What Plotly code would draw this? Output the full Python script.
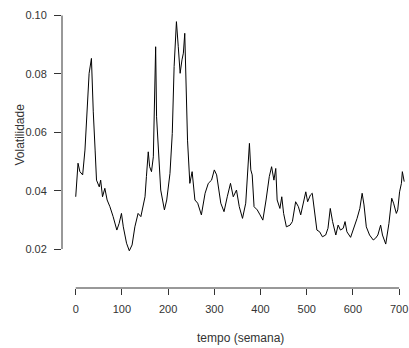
import plotly.graph_objects as go

# week index and volatility
semana = [0, 5, 9, 15, 20, 25, 29, 34, 35, 38, 42, 45, 51, 54, 58, 63, 68, 74, 81, 89,
          94, 99, 103, 110, 116, 122, 128, 135, 141, 146, 150, 153, 157, 160, 164, 168,
          171, 173, 175, 179, 184, 192, 197, 204, 209, 213, 218, 222, 226, 230, 233, 236,
          239, 242, 247, 252, 258, 264, 272, 280, 287, 294, 300, 305, 314, 321, 328, 335,
          341, 348, 354, 361, 368, 374, 376, 379, 382, 386, 393, 399, 405, 412, 419, 424,
          429, 433, 436, 442, 446, 450, 456, 464, 469, 476, 482, 487, 492, 498, 502, 508,
          512, 518, 522, 528, 534, 541, 546, 551, 556, 563, 568, 573, 579, 583, 587, 595,
          602, 609, 615, 620, 624, 629, 636, 644, 649, 654, 660, 664, 671, 678, 684, 688,
          694, 697, 701, 705, 707, 711]
volatilidade = [0.0379, 0.0494, 0.0465, 0.0454, 0.0539, 0.0676, 0.0802, 0.0853, 0.0803,
                0.0670, 0.0539, 0.0436, 0.0413, 0.0436, 0.0379, 0.0408, 0.0368, 0.0345,
                0.0311, 0.0265, 0.0288, 0.0322, 0.0276, 0.0220, 0.0194, 0.0214, 0.0276,
                0.0322, 0.0311, 0.0345, 0.0379, 0.0448, 0.0533, 0.0482, 0.0465, 0.0516,
                0.0733, 0.0893, 0.0653, 0.0528, 0.0402, 0.0334, 0.0368, 0.0459, 0.0596,
                0.0825, 0.0979, 0.0893, 0.0802, 0.0848, 0.0871, 0.0939, 0.0711, 0.0573,
                0.0425, 0.0465, 0.0368, 0.0357, 0.0317, 0.0391, 0.0425, 0.0436, 0.0471,
                0.0454, 0.0357, 0.0328, 0.0379, 0.0425, 0.0379, 0.0402, 0.0345, 0.0305,
                0.0357, 0.0499, 0.0562, 0.0471, 0.0454, 0.0345, 0.0334, 0.0317, 0.0299,
                0.0368, 0.0448, 0.0482, 0.0436, 0.0476, 0.0368, 0.0339, 0.0379, 0.0322,
                0.0276, 0.0282, 0.0294, 0.0362, 0.0345, 0.0317, 0.0357, 0.0396, 0.0362,
                0.0385, 0.0391, 0.0311, 0.0265, 0.0259, 0.0242, 0.0248, 0.0271, 0.0339,
                0.0294, 0.0248, 0.0282, 0.0265, 0.0271, 0.0294, 0.0259, 0.0240, 0.0271,
                0.0305, 0.0339, 0.0391, 0.0351, 0.0276, 0.0248, 0.0231, 0.0237, 0.0248,
                0.0282, 0.0248, 0.0217, 0.0288, 0.0374, 0.0357, 0.0322, 0.0334, 0.0396,
                0.0425, 0.0465, 0.0431]

x_ticks = [0, 100, 200, 300, 400, 500, 600, 700]
y_ticks = [0.02, 0.04, 0.06, 0.08, 0.10]
y_tick_labels = ["0.02", "0.04", "0.06", "0.08", "0.10"]
x_title = "tempo (semana)"
y_title = "Volatilidade"

FONT = "Liberation Sans, Arial, sans-serif"
AXC = "#333333"
TXT = "#333333"

fig = go.Figure()
fig.add_trace(go.Scatter(x=semana, y=volatilidade, mode="lines",
                         line=dict(color="black", width=1), showlegend=False,
                         hoverinfo="skip"))

fig.update_layout(
    width=409, height=348,
    margin=dict(l=62, r=0, t=0, b=60),
    paper_bgcolor="white", plot_bgcolor="white",
    font=dict(family=FONT, size=11, color=TXT),
    xaxis=dict(range=[-29.7, 721.4], tickvals=x_ticks, ticks="outside", ticklen=6,
               tickcolor=AXC, tickwidth=1, showgrid=False, zeroline=False,
               showline=False, ticklabelstandoff=5,
               tickfont=dict(size=11, color=TXT)),
    yaxis=dict(range=[0.00665, 0.10531], tickvals=y_ticks, ticktext=y_tick_labels,
               ticks="outside", ticklen=7, tickcolor=AXC, tickwidth=1,
               showgrid=False, zeroline=False, showline=False, ticklabelstandoff=5,
               tickfont=dict(size=11, color=TXT)),
    shapes=[
        dict(type="line", xref="paper", yref="y", x0=0, x1=0,
             y0=y_ticks[0], y1=y_ticks[-1], line=dict(color=AXC, width=1)),
        dict(type="line", xref="x", yref="paper", x0=x_ticks[0], x1=x_ticks[-1],
             y0=0, y1=0, line=dict(color=AXC, width=1)),
    ],
    annotations=[
        dict(text=x_title, xref="paper", yref="paper", x=0.513, y=-0.1736,
             showarrow=False, xanchor="center", yanchor="middle",
             font=dict(size=12, color=TXT)),
        dict(text=y_title, xref="paper", yref="paper", x=-0.1196, y=0.5347,
             showarrow=False, xanchor="center", yanchor="middle", textangle=-90,
             font=dict(size=12, color=TXT)),
    ],
)

fig.write_html("out.html")
